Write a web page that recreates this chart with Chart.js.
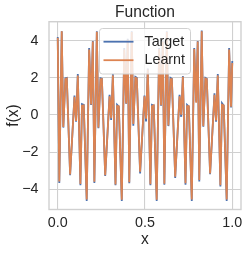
<!DOCTYPE html>
<html>
<head>
<meta charset="utf-8">
<title>Function</title>
<script src="https://cdn.jsdelivr.net/npm/chart.js@4.4.1/dist/chart.umd.min.js"></script>
<style>
  html, body { margin: 0; padding: 0; background: #fff; }
</style>
</head>
<body>
<canvas id="fn_chart" width="249" height="255"></canvas>

<script>
  // values (5 near-repeating periods)
  var xs = [
    0.000, 0.009, 0.023, 0.032, 0.044, 0.052, 0.071, 0.096, 0.105, 0.115, 0.130, 0.139, 0.149, 0.166, 0.180, 0.191,
    0.201, 0.210, 0.224, 0.233, 0.245, 0.253, 0.272, 0.297, 0.306, 0.316, 0.331, 0.340, 0.350, 0.367, 0.381, 0.392,
    0.401, 0.410, 0.424, 0.433, 0.445, 0.453, 0.472, 0.497, 0.506, 0.516, 0.531, 0.540, 0.550, 0.567, 0.581, 0.592,
    0.602, 0.611, 0.625, 0.634, 0.646, 0.654, 0.673, 0.698, 0.707, 0.717, 0.732, 0.741, 0.751, 0.768, 0.782, 0.793,
    0.802, 0.811, 0.825, 0.834, 0.846, 0.854, 0.873, 0.898, 0.907, 0.917, 0.932, 0.941, 0.951, 0.968, 0.982, 0.993,
    1.000
  ];
  var target = [
    4.20, -3.66, 4.50, -0.68, 1.98, 2.00, -3.24, 1.05, -0.36, 2.20, -3.78, 0.58, 0.54, -4.63, 3.60, 0.54,
    3.98, -3.66, 4.50, -0.72, 1.98, 1.95, -3.28, 1.08, -0.27, 2.20, -3.78, 0.55, 0.45, -4.63, 3.60, 0.60,
    4.10, -3.68, 4.50, -0.58, 2.05, 2.00, -3.15, 1.05, -0.35, 2.50, -3.78, 0.54, 0.50, -4.63, 3.60, 0.50,
    4.00, -3.76, 4.50, -0.60, 2.00, 1.95, -3.39, 1.08, -0.10, 2.10, -3.75, 0.54, 0.45, -4.63, 3.60, 0.72,
    3.98, -3.58, 4.54, -0.63, 2.00, 1.95, -3.19, 1.17, -0.36, 2.20, -3.85, 0.63, 0.50, -4.63, 3.60, 0.40,
    2.90
  ];
  var learnt = [
    4.15, -3.58, 4.50, -0.65, 1.93, 1.97, -3.20, 0.98, -0.32, 2.12, -3.72, 0.50, 0.52, -4.55, 3.52, 0.56,
    3.95, -3.60, 4.48, -0.68, 1.92, 1.93, -3.25, 1.00, -0.18, 2.13, -3.74, 0.48, 0.47, -4.56, 3.52, 0.62,
    4.05, -3.62, 4.47, -0.48, 2.00, 1.97, -3.05, 1.00, -0.20, 2.45, -3.73, 0.47, 0.52, -4.56, 3.55, 0.52,
    3.96, -3.70, 4.47, -0.56, 1.93, 1.93, -3.33, 1.00, 0.02, 2.05, -3.67, 0.47, 0.47, -4.55, 3.55, 0.66,
    3.95, -3.50, 4.50, -0.60, 1.96, 1.93, -3.15, 1.08, -0.30, 2.13, -3.78, 0.55, 0.52, -4.55, 3.52, 0.45,
    2.80
  ];
  var x_ticks = [0, 0.5, 1.0];
  var x_tick_labels = ["0.0", "0.5", "1.0"];
  var y_ticks = [-4, -2, 0, 2, 4];
  var y_tick_labels = ["\u22124", "\u22122", "0", "2", "4"];
  var series_names = ["Target", "Learnt"];
  var series_colors = ["#4c72b0", "#dd8452"];
</script>

<script>
  var FONT = "'Liberation Sans', Arial, sans-serif";
  var TXT = "#262626";
  var GRID = "#d0d0d0";

  function pts(ys) {
    return xs.map(function (x, i) { return { x: x, y: ys[i] }; });
  }

  // spines on all four sides, like the seaborn whitegrid frame
  var frame = {
    id: "frame",
    afterDatasetsDraw: function (chart) {
      var a = chart.chartArea, c = chart.ctx;
      c.save();
      c.strokeStyle = GRID;
      c.lineWidth = 1.4;
      c.strokeRect(a.left, a.top, a.right - a.left, a.bottom - a.top);
      c.restore();
    }
  };

  // matplotlib-style legend box inside the axes
  var innerLegend = {
    id: "innerLegend",
    afterDraw: function (chart) {
      var c = chart.ctx;
      var bx = 99.5, by = 28.5, bw = 91, bh = 45.5;
      c.save();
      c.beginPath();
      c.roundRect(bx, by, bw, bh, 3);
      c.fillStyle = "rgba(255,255,255,0.8)";
      c.fill();
      c.strokeStyle = GRID;
      c.lineWidth = 1;
      c.stroke();
      var rows = [41.7, 60.2];
      c.font = "14.3px " + FONT;
      c.textBaseline = "middle";
      c.textAlign = "left";
      for (var i = 0; i < series_names.length; i++) {
        c.beginPath();
        c.moveTo(103.5, rows[i]);
        c.lineTo(133.5, rows[i]);
        c.strokeStyle = series_colors[i];
        c.lineWidth = 1.8;
        c.stroke();
        c.fillStyle = TXT;
        c.fillText(series_names[i], 144.5, rows[i]);
      }
      c.restore();
    }
  };

  var ctx = document.getElementById("fn_chart").getContext("2d");
  var chart = new Chart(ctx, {
    type: "line",
    data: {
      datasets: [{
        label: series_names[0],
        data: pts(target),
        borderColor: series_colors[0],
        borderWidth: 1.8,
        pointRadius: 0,
        tension: 0,
        fill: false,
        order: 2
      }, {
        label: series_names[1],
        data: pts(learnt),
        borderColor: series_colors[1],
        borderWidth: 1.8,
        pointRadius: 0,
        tension: 0,
        fill: false,
        order: 1
      }]
    },
    options: {
      responsive: false,
      animation: false,
      devicePixelRatio: 1,
      layout: { padding: { left: 0, right: 8, top: 0, bottom: 0 } },
      plugins: {
        legend: { display: false },
        tooltip: { enabled: false },
        title: {
          display: true,
          text: "Function",
          fullSize: false,
          color: TXT,
          font: { family: FONT, size: 15.6, weight: "normal" },
          padding: { top: 3, bottom: 0 }
        }
      },
      scales: {
        x: {
          type: "linear",
          min: -0.05,
          max: 1.05,
          afterBuildTicks: function (s) { s.ticks = x_ticks.map(function (v) { return { value: v }; }); },
          afterFit: function (s) { s.height = 45.5; },
          ticks: {
            padding: 5,
            color: TXT,
            font: { family: FONT, size: 14.3 },
            maxRotation: 0,
            callback: function (v) { var i = x_ticks.indexOf(v); return i < 0 ? "" : x_tick_labels[i]; }
          },
          grid: { color: GRID, lineWidth: 1.1, drawTicks: false },
          border: { display: false },
          title: {
            display: true,
            text: "x",
            color: TXT,
            font: { family: FONT, size: 15.6 },
            padding: { top: 0, bottom: 5.6 }
          }
        },
        y: {
          type: "linear",
          min: -5.09,
          max: 5.02,
          afterBuildTicks: function (s) { s.ticks = y_ticks.map(function (v) { return { value: v }; }); },
          afterFit: function (s) { s.width = 49; },
          ticks: {
            padding: 10.5,
            color: TXT,
            font: { family: FONT, size: 14.3 },
            callback: function (v) { var i = y_ticks.indexOf(v); return i < 0 ? "" : y_tick_labels[i]; }
          },
          grid: { color: GRID, lineWidth: 1.1, drawTicks: false },
          border: { display: false },
          title: {
            display: true,
            text: "f(x)",
            color: TXT,
            font: { family: FONT, size: 15.6 },
            padding: { top: 4, bottom: 0 }
          }
        }
      }
    },
    plugins: [frame, innerLegend]
  });
</script>
</body>
</html>
